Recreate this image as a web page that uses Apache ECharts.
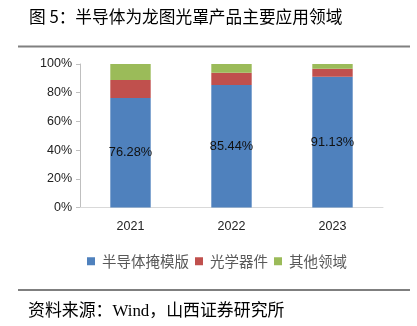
<!DOCTYPE html>
<html>
<head>
<meta charset="utf-8">
<script src="https://cdn.jsdelivr.net/npm/echarts@6/dist/echarts.min.js"></script>
<style>
  html, body { margin: 0; padding: 0; background: #fff; }
  #chart { width: 417px; height: 326px; }
</style>
</head>
<body>
<div id="chart"></div>
<script>
// Application split of photomask products by year (percent of revenue)
const categories = ['2021', '2022', '2023'];
const maskShare = [76.28, 85.44, 91.13];
const opticsShare = [12.6, 8.5, 5.5];
const otherShare = [11.12, 6.06, 3.37];
const yTicks = { min: 0, max: 100, interval: 20 };

const seriesNames = ['半导体掩模版', '光学器件', '其他领域'];
const colors = ['#4F81BD', '#C0504D', '#9BBB59'];

const chart = echarts.init(document.getElementById('chart'), null, { renderer: 'canvas' });

const cjk = '"Noto Sans CJK SC", sans-serif';
const latin = '"Liberation Sans", Arial, sans-serif';

chart.setOption({
  animation: false,
  color: colors,
  grid: { left: 80, right: 34, top: 64, bottom: 118.5, containLabel: false },
  legend: {
    data: seriesNames,
    left: 87,
    top: 254,
    padding: 0,
    itemWidth: 8,
    itemHeight: 8,
    itemGap: 6,
    icon: 'rect',
    textStyle: { color: '#595959', fontSize: 14.5, fontFamily: cjk, padding: [0, 0, 0, 2] }
  },
  xAxis: {
    type: 'category',
    data: categories,
    axisLine: { lineStyle: { color: '#d9d9d9', width: 1 } },
    axisTick: { show: false },
    axisLabel: { color: '#222', fontSize: 12.5, fontFamily: latin, margin: 13 }
  },
  yAxis: {
    type: 'value',
    min: yTicks.min,
    max: yTicks.max,
    interval: yTicks.interval,
    axisLine: { show: true, lineStyle: { color: '#bfbfbf' } },
    axisTick: { show: true, length: 4, lineStyle: { color: '#bfbfbf' } },
    splitLine: { show: false },
    axisLabel: { color: '#222', fontSize: 12.5, fontFamily: latin, margin: 8, formatter: '{value}%' }
  },
  series: [
    {
      name: seriesNames[0], type: 'bar', stack: 'total', data: maskShare, barWidth: '40%',
      label: {
        show: true, position: 'inside', color: '#111', fontSize: 12.8, fontFamily: latin,
        formatter: p => p.value.toFixed(2) + '%'
      }
    },
    { name: seriesNames[1], type: 'bar', stack: 'total', data: opticsShare, barWidth: '40%' },
    { name: seriesNames[2], type: 'bar', stack: 'total', data: otherShare, barWidth: '40%' }
  ],
  graphic: [
    {
      type: 'text', left: 29, top: 8,
      style: { text: '图 5：半导体为龙图光罩产品主要应用领域', fill: '#000', font: '16.7px ' + cjk }
    },
    {
      type: 'rect', shape: { x: 18, y: 45.5, width: 392, height: 2 },
      style: { fill: '#808080' }
    },
    {
      type: 'rect', shape: { x: 18, y: 289.5, width: 392, height: 1 },
      style: { fill: '#000' }
    },
    {
      type: 'text', left: 28, top: 303,
      style: { text: '资料来源：Wind，山西证券研究所', fill: '#000', font: '16.9px "Liberation Serif", "Noto Sans CJK SC", serif' }
    }
  ]
});
</script>
</body>
</html>
